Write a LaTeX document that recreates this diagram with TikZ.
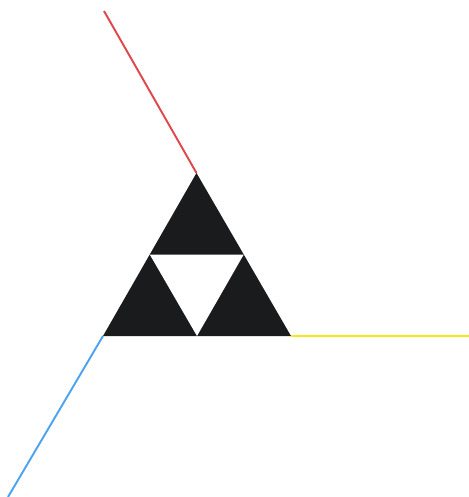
\documentclass[tikz,border=0pt]{standalone}
\usetikzlibrary{calc}
\definecolor{trired}{HTML}{E0474C}
\definecolor{triblue}{HTML}{4DA3EE}
\definecolor{triyellow}{HTML}{F7E817}
\definecolor{triblack}{HTML}{1A1B1D}
\begin{document}
\begin{tikzpicture}[x=0.02cm,y=-0.02cm,line width=1.1pt]
			\useasboundingbox (0,0) rectangle (469,497);
			\coordinate (top) at (196.5,173);
			\coordinate (left) at (103,336);
			\coordinate (right) at (291,336);
			\coordinate (ml) at ($(top)!0.5!(left)$);
			\coordinate (mr) at ($(top)!0.5!(right)$);
			\coordinate (mb) at ($(left)!0.5!(right)$);
			\fill[triblack] (top) -- (left) -- (right) -- cycle;
			\fill[white] (ml) -- (mr) -- (mb) -- cycle;
			\draw[trired] (top) -- (104,11);
			\draw[triyellow] (right) -- (469,336);
			\draw[triblue] (left) -- (8,497);
		\end{tikzpicture}
\end{document}
